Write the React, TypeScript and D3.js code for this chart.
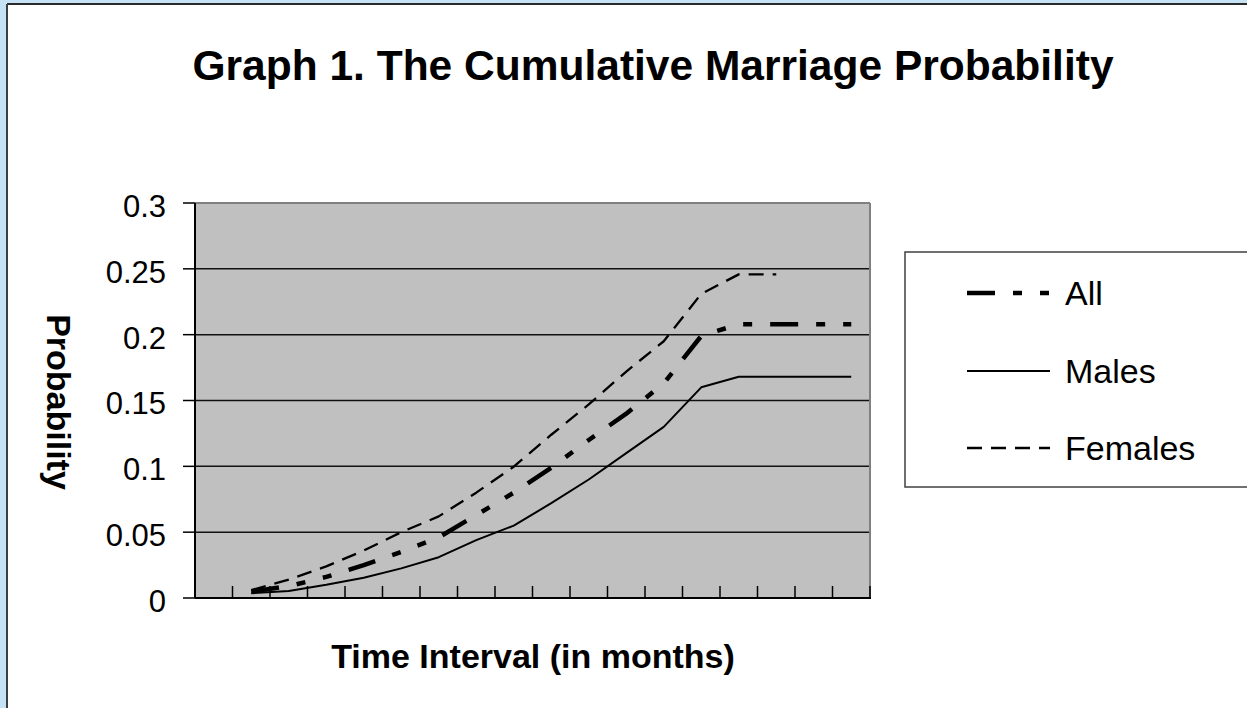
import React from "react";
import * as d3 from "d3";

const categories: string[] = ["1","2","3","4","5","6","7","8","9","10","11","12","13","14","15","16","17","18"];
const allValues: (number | null)[] = [null, 0.0048, 0.009, 0.016, 0.025, 0.035, 0.046, 0.063, 0.080, 0.099, 0.120, 0.140, 0.163, 0.199, 0.208, 0.208, 0.208, 0.208];
const maleValues: (number | null)[] = [null, 0.0036, 0.0053, 0.010, 0.0154, 0.0225, 0.031, 0.044, 0.055, 0.072, 0.090, 0.110, 0.130, 0.160, 0.168, 0.168, 0.168, 0.168];
const femaleValues: (number | null)[] = [null, 0.006, 0.014, 0.024, 0.036, 0.050, 0.062, 0.080, 0.0997, 0.124, 0.147, 0.172, 0.195, 0.231, 0.2458, 0.2458, null, null];
const yTicks: number[] = [0, 0.05, 0.1, 0.15, 0.2, 0.25, 0.3];
const yTickLabels: string[] = ["0", "0.05", "0.1", "0.15", "0.2", "0.25", "0.3"];
const seriesNames: string[] = ["All", "Males", "Females"];

const W = 1247, H = 708;
const plot = { left: 195, right: 870, top: 203, bottom: 598 };
const FONT = "'Liberation Sans', Arial, sans-serif";

export default function App() {
  const x = d3.scaleBand<string>().domain(categories).range([plot.left, plot.right]);
  const y = d3.scaleLinear().domain([0, 0.3]).range([plot.bottom, plot.top]);
  const cx = (i: number) => (x(categories[i]) as number) + x.bandwidth() / 2;

  const mkLine = (vals: (number | null)[]) =>
    d3.line<number | null>()
      .defined((d) => d !== null)
      .x((_, i) => cx(i))
      .y((d) => y(d as number))(vals) || "";

  const styles = [
    { name: seriesNames[0], vals: allValues, width: 4.5, dash: "28 18 9 18 9 18" },
    { name: seriesNames[1], vals: maleValues, width: 2, dash: "" },
    { name: seriesNames[2], vals: femaleValues, width: 2.3, dash: "15 9" },
  ];
  const legendY = [293, 371, 448];

  return (
    <svg width={W} height={H} style={{ position: "absolute", left: 0, top: 0, background: "#fff" }} fontFamily={FONT}>
      {/* outer frame */}
      <rect x={0} y={0} width={W} height={H} fill="#ffffff" />
      <rect x={0} y={0} width={6} height={H} fill="#c6e2f5" />
      <rect x={0} y={0} width={W} height={3} fill="#c6e2f5" />
      <line x1={7} y1={4} x2={W} y2={4} stroke="#2b2b2b" strokeWidth={2} />
      <line x1={7} y1={4} x2={7} y2={H} stroke="#3a3f44" strokeWidth={2} />

      {/* title */}
      <text x={653} y={80} textAnchor="middle" fontSize={42.5} fontWeight="bold" fill="#000">
        Graph 1. The Cumulative Marriage Probability
      </text>

      {/* plot area */}
      <rect x={plot.left} y={plot.top} width={plot.right - plot.left} height={plot.bottom - plot.top} fill="#c0c0c0" />
      {yTicks.filter((t) => t > 0 && t < 0.3).map((t) => (
        <line key={t} x1={plot.left} x2={plot.right} y1={y(t)} y2={y(t)} stroke="#111" strokeWidth={1.5} />
      ))}
      <line x1={plot.left} x2={plot.right} y1={plot.top} y2={plot.top} stroke="#808080" strokeWidth={2} />
      <line x1={plot.right} x2={plot.right} y1={plot.top} y2={plot.bottom} stroke="#808080" strokeWidth={2} />

      {/* series */}
      {styles.map((s) => (
        <path key={s.name} d={mkLine(s.vals)} fill="none" stroke="#000" strokeWidth={s.width}
          strokeDasharray={s.dash || undefined} strokeLinejoin="round" />
      ))}

      {/* axes */}
      <line x1={plot.left} x2={plot.left} y1={plot.top} y2={plot.bottom} stroke="#000" strokeWidth={2} />
      <line x1={plot.left} x2={plot.right + 1} y1={plot.bottom} y2={plot.bottom} stroke="#000" strokeWidth={2} />
      {yTicks.map((t, i) => (
        <g key={t}>
          <line x1={plot.left - 12} x2={plot.left} y1={y(t)} y2={y(t)} stroke="#000" strokeWidth={1.5} />
          <text x={166} y={y(t) + 3} dy="0.35em" textAnchor="end" fontSize={31} fill="#000">{yTickLabels[i]}</text>
        </g>
      ))}
      {categories.map((c) => (
        <line key={c} x1={x(c) as number} x2={x(c) as number}
          y1={plot.bottom} y2={plot.bottom - 12} stroke="#000" strokeWidth={1.5} />
      ))}
      <line x1={plot.right} x2={plot.right} y1={plot.bottom} y2={plot.bottom - 12} stroke="#000" strokeWidth={1.5} />

      {/* axis titles */}
      <text x={533} y={668} textAnchor="middle" fontSize={34} fontWeight="bold" fill="#000">
        Time Interval (in months)
      </text>
      <text transform="translate(47,402) rotate(90)" textAnchor="middle" fontSize={34} fontWeight="bold" fill="#000">
        Probability
      </text>

      {/* legend */}
      <rect x={905} y={252} width={400} height={235} fill="#fff" stroke="#404040" strokeWidth={1.5} />
      {styles.map((s, i) => (
        <g key={s.name}>
          <line x1={967} x2={1050} y1={legendY[i]} y2={legendY[i]} stroke="#000" strokeWidth={s.width}
            strokeDasharray={s.dash || undefined} />
          <text x={1065} y={legendY[i]} dy="0.36em" fontSize={34} fill="#000">{s.name}</text>
        </g>
      ))}
    </svg>
  );
}
